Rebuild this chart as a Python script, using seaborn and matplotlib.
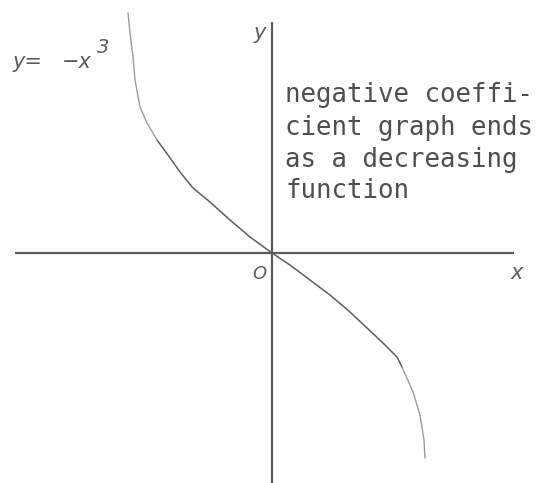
import matplotlib
matplotlib.use("Agg")
import matplotlib.pyplot as plt
import seaborn as sns
import pandas as pd

sns.set_style("white")

# Points along the sketched curve y = -x^3 (plot units, origin at the axes crossing)
curve_x = [-1.44, -1.42, -1.39, -1.37, -1.32, -1.25, -1.15, -1.04, -0.92, -0.79,
           -0.62, -0.42, -0.22, 0.00, 0.18, 0.38, 0.58, 0.78, 0.95, 1.11,
           1.25, 1.30, 1.41, 1.48, 1.52, 1.53]
curve_y = [2.40, 2.20, 1.96, 1.73, 1.46, 1.30, 1.13, 0.98, 0.81, 0.65,
           0.51, 0.33, 0.16, 0.00, -0.12, -0.27, -0.42, -0.59, -0.75, -0.90,
           -1.04, -1.14, -1.39, -1.62, -1.87, -2.05]

note_lines = ["negative coeffi-", "cient graph ends", "as a decreasing", "function"]
formula_lhs = "y="
formula_rhs = "\u2212x"
formula_exp = "3"
axis_x_label = "x"
axis_y_label = "y"
origin_label = "O"

ink = "#5c5c5c"

fig = plt.figure(figsize=(5.48, 4.83), dpi=100)
ax = fig.add_axes([0, 0, 1, 1])
ax.set_xlim(-2.72, 2.76)
ax.set_ylim(-2.30, 2.53)
ax.axis("off")

# coordinate axes
ax.plot([-2.57, 2.42], [0.0, 0.0], color=ink, lw=1.6, solid_capstyle="butt")
ax.plot([0.0, 0.0], [2.31, -2.30], color=ink, lw=1.6, solid_capstyle="butt")

df = pd.DataFrame({"x": curve_x, "y": curve_y})
# the steep ends of the curve are drawn lighter than the middle part
upper = df.iloc[:7]
middle = df.iloc[6:22]
lower = df.iloc[21:]
sns.lineplot(data=middle, x="x", y="y", sort=False, estimator=None,
             color="#5e5e5e", lw=1.1, ax=ax)
for part in (upper, lower):
    sns.lineplot(data=part, x="x", y="y", sort=False, estimator=None,
                 color="#9a9a9a", lw=1.0, ax=ax)

# axis labels
ax.text(2.45, -0.20, axis_x_label, fontsize=15, style="italic", color=ink,
        ha="center", va="center")
ax.text(-0.12, 2.20, axis_y_label, fontsize=15, style="italic", color=ink,
        ha="center", va="center")
ax.text(-0.13, -0.21, origin_label, fontsize=13, style="italic", color=ink,
        ha="center", va="center")

# formula label
ax.text(-2.59, 1.85, formula_lhs, fontsize=15, style="italic", color=ink,
        ha="left", va="baseline")
ax.text(-2.10, 1.85, formula_rhs, fontsize=15, style="italic", color=ink,
        ha="left", va="baseline")
ax.text(-1.75, 2.00, formula_exp, fontsize=14, style="italic", color=ink,
        ha="left", va="baseline")

# annotation text
baselines = [1.51, 1.18, 0.86, 0.55]
for line, yb in zip(note_lines, baselines):
    ax.text(0.13, yb, line, fontsize=18.5, family="DejaVu Sans Mono",
            color="#4f4f4f", ha="left", va="baseline")

fig.savefig("out.png", dpi=100, facecolor="white")
